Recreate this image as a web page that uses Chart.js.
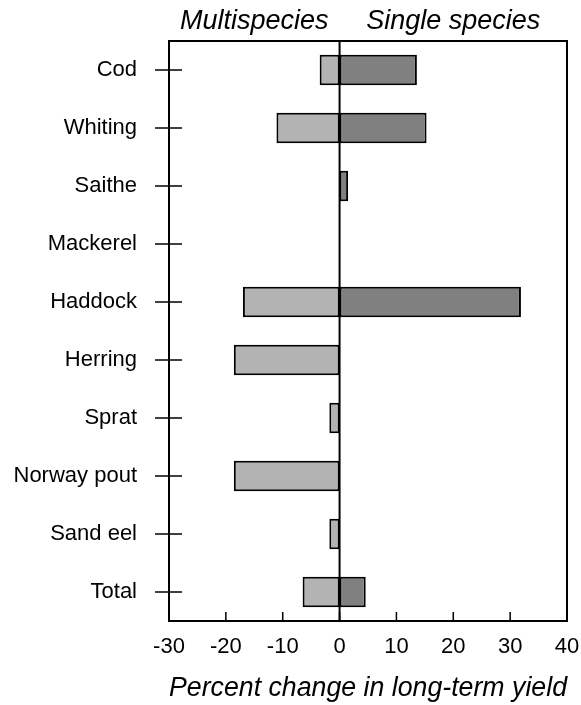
<!DOCTYPE html>
<html>
<head>
<meta charset="utf-8">
<script src="https://cdn.jsdelivr.net/npm/chart.js@4"></script>
<style>
  html, body { margin: 0; padding: 0; background: #fff; }
  #wrap { width: 581px; height: 705px; position: relative; }
</style>
</head>
<body>
<div id="wrap"><canvas id="chart"></canvas></div>
<script>
// Percent change in long-term yield, multispecies vs single species
const categories = ["Cod", "Whiting", "Saithe", "Mackerel", "Haddock", "Herring", "Sprat", "Norway pout", "Sand eel", "Total"];
const multispecies  = [-3.5, -11.1, null, null, -17.0, -18.6, -1.8, -18.6, -1.8, -6.5];
const singleSpecies = [13.6, 15.3, 1.5, null, 31.9, null, null, null, null, 4.6];
const xMin = -30, xMax = 40, xStep = 10;
const headers = ["Multispecies", "Single species"];

const FONT = "'Liberation Sans', Arial, sans-serif";
const NARROW = "'Liberation Sans Narrow', 'Liberation Sans', Arial, sans-serif";

function line(ctx, x1, y1, x2, y2) {
  ctx.beginPath(); ctx.moveTo(x1, y1); ctx.lineTo(x2, y2); ctx.stroke();
}

// frame, zero line, crossing ticks and the two headers
const framePlugin = {
  id: "frame",
  afterDatasetsDraw(chart) {
    const { ctx, chartArea: a, scales: { x, y } } = chart;
    const x0 = x.getPixelForValue(0);
    ctx.save();
    ctx.strokeStyle = "#000";
    ctx.lineWidth = 2;
    line(ctx, x0, a.top, x0, a.bottom);
    ctx.strokeRect(a.left, a.top, a.width, a.height);
    ctx.lineWidth = 1.5;
    categories.forEach((c, i) => {
      const py = y.getPixelForValue(i);
      line(ctx, a.left - 14, py, a.left + 13, py);
    });
    x.ticks.forEach(t => {
      const px = x.getPixelForValue(t.value);
      line(ctx, px, a.bottom, px, a.bottom - 9);
    });
    ctx.fillStyle = "#000";
    ctx.font = "italic 27px " + FONT;
    ctx.textAlign = "center";
    ctx.textBaseline = "alphabetic";
    ctx.fillText(headers[0], (a.left + x0) / 2, 29);
    ctx.fillText(headers[1], (x0 + a.right) / 2, 29);
    ctx.restore();
  }
};

new Chart(document.getElementById("chart").getContext("2d"), {
  type: "bar",
  data: {
    labels: categories,
    datasets: [
      { label: headers[0], data: multispecies, backgroundColor: "#b3b3b3" },
      { label: headers[1], data: singleSpecies, backgroundColor: "#808080" }
    ]
  },
  options: {
    indexAxis: "y",
    responsive: true,
    maintainAspectRatio: false,
    animation: false,
    layout: { padding: { top: 41, right: 14, left: 0, bottom: 0 } },
    datasets: {
      bar: {
        borderColor: "#000",
        borderWidth: 2,
        borderSkipped: false,
        categoryPercentage: 1,
        barPercentage: 0.53
      }
    },
    plugins: { legend: { display: false }, tooltip: { enabled: false } },
    scales: {
      x: {
        stacked: true,
        min: xMin, max: xMax,
        border: { display: false },
        grid: { display: false, drawTicks: false },
        ticks: { stepSize: xStep, color: "#000", padding: 13, font: { family: NARROW, size: 22 } },
        title: {
          display: true,
          text: "Percent change in long-term yield",
          color: "#000",
          font: { family: FONT, size: 27, style: "italic" },
          padding: { top: 0, bottom: 0 }
        },
        afterFit: s => { s.height = 84; s.paddingLeft = 0; s.paddingRight = 0; }
      },
      y: {
        stacked: true,
        border: { display: false },
        grid: { display: false, drawTicks: false },
        ticks: { color: "#000", padding: 32, font: { family: FONT, size: 22 } },
        afterFit: s => { s.width = 169; s.paddingTop = 0; s.paddingBottom = 0; }
      }
    }
  },
  plugins: [framePlugin]
});
</script>
</body>
</html>
